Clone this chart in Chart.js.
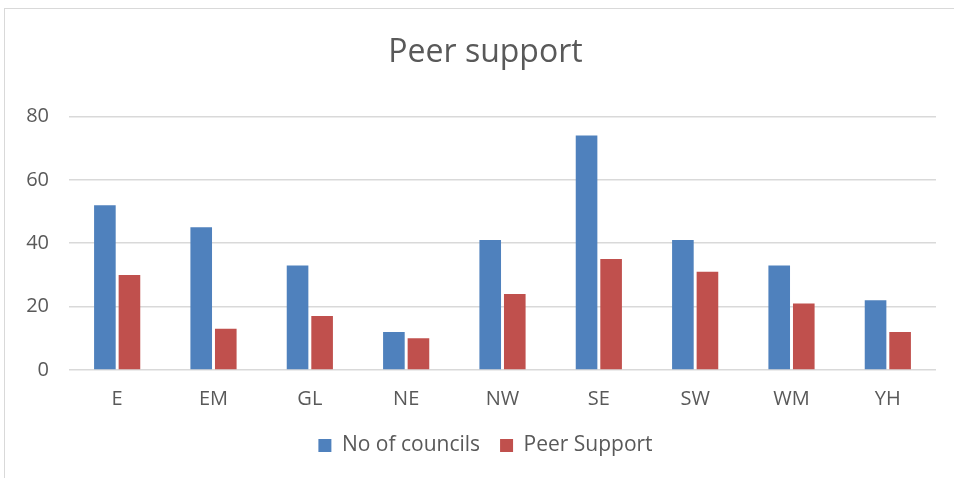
<!DOCTYPE html>
<html>
<head>
<meta charset="utf-8">
<script src="https://cdn.jsdelivr.net/npm/chart.js@4"></script>
<style>
  html, body { margin: 0; padding: 0; background: #fff; overflow: hidden; }
  #wrap {
    position: absolute; left: 4px; top: 8px;
    width: 975px; height: 480px;
    border: 1px solid #d9d9d9;
    box-sizing: border-box;
  }
  #wrap canvas { display: block; }
</style>
</head>
<body>
<div id="wrap"><canvas id="peerChart" width="961" height="469"></canvas></div>
<script>
const regions = ['E', 'EM', 'GL', 'NE', 'NW', 'SE', 'SW', 'WM', 'YH'];
const councils = [52, 45, 33, 12, 41, 74, 41, 33, 22];
const peerSupport = [30, 13, 17, 10, 24, 35, 31, 21, 12];
const yTicks = [0, 20, 40, 60, 80];

const font = '"Open Sans", "Noto Sans", sans-serif';
const grey = '#595959';

// title and legend sit centred on the outer frame, not the plot; nudge them
const boxNudge = {
  id: 'boxNudge',
  afterLayout(chart) {
    const t = chart.titleBlock;
    if (t) { t.left += 10; t.right += 10; }
    const l = chart.legend;
    if (l) {
      l.left += 10; l.right += 10;
      l.top -= 5; l.bottom -= 5;
    }
  }
};

const ctx = document.getElementById('peerChart').getContext('2d');
const peerChart = new Chart(ctx, {
  type: 'bar',
  data: {
    labels: regions,
    datasets: [{
      label: 'No of councils',
      data: councils,
      backgroundColor: '#4f81bd',
      categoryPercentage: 0.51,
      barPercentage: 0.88
    }, {
      label: 'Peer Support',
      data: peerSupport,
      backgroundColor: '#c0504d',
      categoryPercentage: 0.51,
      barPercentage: 0.88
    }]
  },
  options: {
    responsive: false,
    animation: false,
    layout: {
      padding: { left: 10, right: 30, top: 25, bottom: 7 }
    },
    scales: {
      x: {
        grid: { display: false },
        border: { display: false },
        ticks: { color: grey, font: { family: font, size: 20 }, padding: 9 }
      },
      y: {
        min: 0,
        max: 80,
        afterBuildTicks: (scale) => {
          scale.ticks = yTicks.map(v => ({ value: v }));
        },
        afterFit: (scale) => { scale.width = 54; },
        grid: { color: '#d9d9d9', lineWidth: 1.5, drawTicks: false },
        border: { display: false },
        ticks: { color: grey, font: { family: font, size: 20 }, padding: 20 }
      }
    },
    plugins: {
      title: {
        display: true,
        text: 'Peer support',
        color: grey,
        font: { family: font, size: 32, weight: 'normal' },
        padding: { top: 0, bottom: 44 }
      },
      legend: {
        position: 'bottom',
        labels: {
          color: grey,
          font: { family: font, size: 21 },
          boxWidth: 13,
          boxHeight: 13,
          padding: 20
        }
      },
      tooltip: { enabled: false }
    }
  },
  plugins: [boxNudge]
});
</script>
</body>
</html>
